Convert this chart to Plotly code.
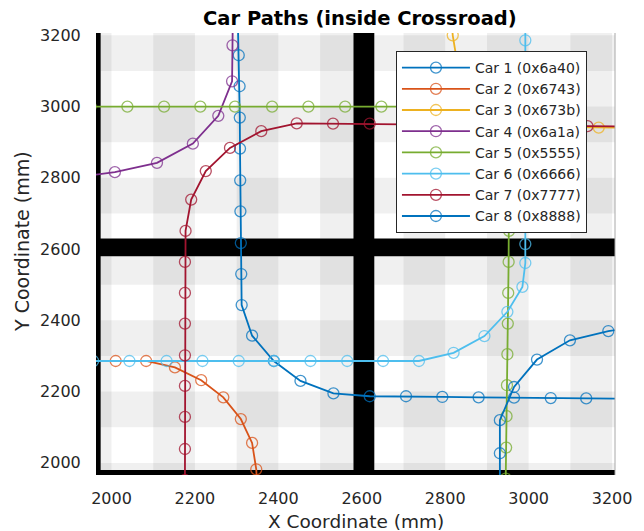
import plotly.graph_objects as go

# ---------------- data ----------------
car_names = ["Car 1 (0x6a40)", "Car 2 (0x6743)", "Car 3 (0x673b)", "Car 4 (0x6a1a)",
             "Car 5 (0x5555)", "Car 6 (0x6666)", "Car 7 (0x7777)", "Car 8 (0x8888)"]
car_colors = ["#0072BD", "#D95319", "#EDB120", "#7E2F8E",
              "#77AC30", "#4DBEEE", "#A2142F", "#0072BD"]

car1_x = [2303, 2305, 2307, 2307.5, 2308, 2308.5, 2309, 2310, 2311, 2312, 2337, 2389, 2453, 2532,
          2619, 2706, 2793, 2880, 2965, 3053, 3138, 3225]
car1_y = [3231, 3144, 3057, 2969, 2882, 2793, 2706, 2617, 2530, 2443, 2357, 2286, 2230, 2195,
          2187, 2187, 2185, 2184, 2183, 2182, 2181, 2180]

car2_x = [1937, 2010, 2083, 2152, 2215, 2268, 2310, 2337, 2347, 2350]
car2_y = [2286, 2286, 2286, 2268, 2232, 2184, 2123, 2056, 1982, 1908]

car3_x = [2812, 2818, 2830, 2862, 2915, 2985, 3070, 3168, 3255]
car3_y = [3290, 3200, 3114, 3033, 2972, 2950, 2943, 2941, 2940]

car4_x = [1908, 2008, 2109, 2195, 2256, 2289, 2290, 2291]
car4_y = [2800, 2816, 2842, 2896, 2974, 3071, 3172, 3272]

car5_x = [1950, 2038, 2126, 2213, 2296, 2385, 2472, 2560, 2647, 2735, 2822, 2900, 2940,
          2953, 2953, 2953, 2952, 2951, 2950, 2949, 2948, 2947, 2946, 2945]
car5_y = [3000, 3000, 3000, 3000, 3000, 3000, 3000, 3000, 3000, 3000, 3000, 2985, 2925,
          2825, 2738, 2651, 2564, 2477, 2391, 2305, 2218, 2131, 2043, 1956]

car6_x = [1956, 2043, 2132, 2218, 2305, 2390, 2477, 2565, 2651, 2737, 2820, 2894, 2949, 2985,
          2992, 2992, 2992, 2992, 2992, 2992, 2992, 2992, 2992, 2992]
car6_y = [2286, 2286, 2286, 2286, 2286, 2286, 2286, 2286, 2286, 2286, 2309, 2356, 2424, 2494,
          2561, 2614, 2696, 2778, 2859, 2941, 3023, 3104, 3186, 3268]

car7_x = [2176, 2176, 2176, 2176, 2176, 2176, 2176, 2176, 2177.5, 2191, 2226, 2284, 2359, 2444,
          2531, 2619, 2706, 2793, 2880, 2967, 3054, 3141, 3228]
car7_y = [1952, 2039, 2129, 2216, 2302, 2391, 2477, 2564, 2651, 2739, 2819, 2884, 2931, 2953,
          2952, 2952, 2950, 2949, 2948, 2947, 2946, 2945, 2944]

car8_x = [2931, 2931, 2931, 2965, 3020, 3099, 3191, 3285]
car8_y = [1932, 2027, 2120, 2213, 2290, 2344, 2370, 2385]

cars_x = [car1_x, car2_x, car3_x, car4_x, car5_x, car6_x, car7_x, car8_x]
cars_y = [car1_y, car2_y, car3_y, car4_y, car5_y, car6_y, car7_y, car8_y]

x_ticks = [2000, 2200, 2400, 2600, 2800, 3000, 3200]
y_ticks = [2000, 2200, 2400, 2600, 2800, 3000, 3200]

# ---------------- figure ----------------
def rgba(hexc, a):
    h = hexc.lstrip("#")
    return "rgba(%d,%d,%d,%.2f)" % (int(h[0:2], 16), int(h[2:4], 16), int(h[4:6], 16), a)

fig = go.Figure()
for name, col, xs, ys in zip(car_names, car_colors, cars_x, cars_y):
    fig.add_trace(go.Scatter(
        x=xs, y=ys, name=name, mode="lines+markers",
        line=dict(color=col, width=1.8),
        marker=dict(symbol="circle-open", size=11, color=rgba(col, 0.75),
                    line=dict(width=1.3)),
    ))

# background tiles (crossroad layout)
X0, X1 = 1962.8, 3207.0
Y0, Y1 = 1966.0, 3206.5
tile_x = [(1974, 2580), (2630, 3215)]
tile_y = [(1980, 2580), (2630, 3215)]
shapes = []
stripe = "rgba(0,0,0,0.058)"
for (xa, xb) in tile_x:
    for (ya, yb) in tile_y:
        shapes.append(dict(type="rect", xref="x", yref="y", x0=xa, x1=xb, y0=ya, y1=yb,
                           fillcolor="white", line=dict(width=0), layer="below"))
        for k in range(19, 33):
            if k % 2 == 1:
                a, b = max(xa, k * 100), min(xb, (k + 1) * 100)
                if a < b:
                    shapes.append(dict(type="rect", xref="x", yref="y", x0=a, x1=b, y0=ya, y1=yb,
                                       fillcolor=stripe, line=dict(width=0), layer="below"))
                a, b = max(ya, k * 100), min(yb, (k + 1) * 100)
                if a < b:
                    shapes.append(dict(type="rect", xref="x", yref="y", x0=xa, x1=xb, y0=a, y1=b,
                                       fillcolor=stripe, line=dict(width=0), layer="below"))
shapes.append(dict(type="line", xref="paper", yref="paper", x0=1, x1=1, y0=0, y1=1,
                   line=dict(color="#a8a8a8", width=1), layer="above"))

font_family = "DejaVu Sans"
txt_col = "#262626"

fig.update_layout(
    width=644, height=531,
    margin=dict(l=96, r=22, t=33, b=56),
    paper_bgcolor="white", plot_bgcolor="black",
    shapes=shapes,
    showlegend=True,
    legend=dict(x=(400 - 96) / 526, y=(475 - 51) / 442, xanchor="left", yanchor="top",
                bgcolor="white", bordercolor=txt_col, borderwidth=1,
                font=dict(family=font_family, size=14, color=txt_col),
                itemwidth=68, tracegroupgap=0),
    xaxis=dict(range=[X0, X1], tickvals=x_ticks, ticktext=[str(v) for v in x_ticks],
               showgrid=False, zeroline=False, showline=False,
               ticks="outside", ticklen=9, tickcolor="rgba(0,0,0,0)",
               tickfont=dict(family=font_family, size=16, color=txt_col)),
    yaxis=dict(range=[Y0, Y1], tickvals=y_ticks, ticktext=[str(v) for v in y_ticks],
               showgrid=False, zeroline=False, showline=False,
               ticks="outside", ticklen=11, tickcolor="rgba(0,0,0,0)",
               tickfont=dict(family=font_family, size=16, color=txt_col)),
    annotations=[
        dict(text="<b>Car Paths (inside Crossroad)</b>", xref="paper", yref="paper",
             x=(364 - 96) / 526, y=1, yshift=15, xanchor="center", yanchor="middle",
             showarrow=False, font=dict(family=font_family, size=19.5, color="black")),
        dict(text="X Coordinate (mm)", xref="paper", yref="paper",
             x=(360 - 96) / 526, y=(475 - 521) / 442, xanchor="center", yanchor="middle",
             showarrow=False, font=dict(family=font_family, size=18.5, color=txt_col)),
        dict(text="Y Coordinate (mm)", xref="paper", yref="paper",
             x=(21 - 96) / 526, y=(475 - 241) / 442, xanchor="center", yanchor="middle",
             textangle=-90, showarrow=False,
             font=dict(family=font_family, size=19, color=txt_col)),
    ],
)

fig.write_html("out.html", config={"displayModeBar": False},
               post_script="document.body.style.margin='0';document.body.style.overflow='hidden';")
